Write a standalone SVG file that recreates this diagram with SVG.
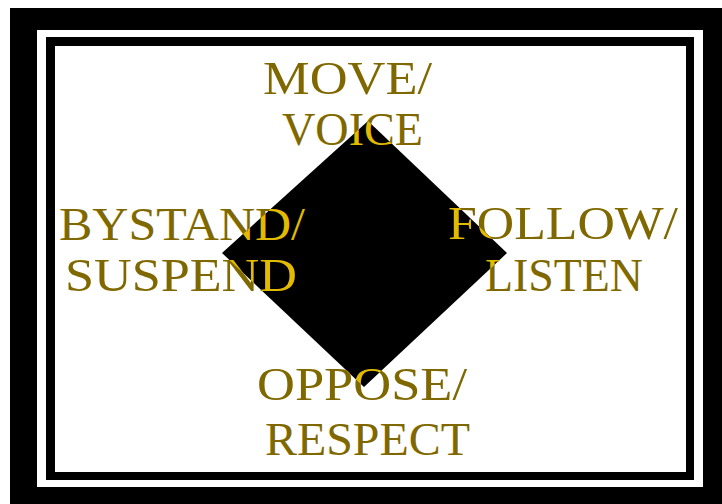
<svg xmlns="http://www.w3.org/2000/svg" width="722" height="504" viewBox="0 0 722 504">
  <style>
    .lbl { font-family: "Liberation Serif", "DejaVu Serif", serif; font-size: 46px; fill: url(#txfill); text-anchor: middle; }
  </style>
  <defs>
    <pattern id="txfill" patternUnits="userSpaceOnUse" x="0" y="0" width="722" height="504">
      <rect x="0" y="0" width="722" height="504" fill="#806800"/>
      <polygon points="368,121 507,253 364,387 222,253" fill="#e2bb00"/>
    </pattern>
  </defs>
  <rect x="0" y="0" width="722" height="504" fill="#ffffff"/>
  <g id="frame">
    <rect x="10" y="8" width="712" height="496" fill="#000000"/>
    <rect x="37" y="30" width="666" height="457" fill="#ffffff"/>
    <rect x="46" y="37" width="648" height="443" fill="#000000"/>
    <rect x="55" y="46" width="631" height="426" fill="#ffffff"/>
  </g>
  <g id="diamond">
    <polygon points="368,121 507,253 364,387 222,253" fill="#000000"/>
  </g>
  <g id="label-top">
    <text class="lbl" x="347.5" y="94" textLength="169" lengthAdjust="spacingAndGlyphs">MOVE/</text>
    <text class="lbl" x="352.5" y="145" textLength="141" lengthAdjust="spacingAndGlyphs">VOICE</text>
  </g>
  <g id="label-left">
    <text class="lbl" x="182" y="240" textLength="246" lengthAdjust="spacingAndGlyphs">BYSTAND/</text>
    <text class="lbl" x="181" y="291" textLength="232" lengthAdjust="spacingAndGlyphs">SUSPEND</text>
  </g>
  <g id="label-right">
    <text class="lbl" x="563" y="239" textLength="230" lengthAdjust="spacingAndGlyphs">FOLLOW/</text>
    <text class="lbl" x="564" y="291" textLength="158" lengthAdjust="spacingAndGlyphs">LISTEN</text>
  </g>
  <g id="label-bottom">
    <text class="lbl" x="362" y="400" textLength="210" lengthAdjust="spacingAndGlyphs">OPPOSE/</text>
    <text class="lbl" x="367.5" y="455" textLength="205" lengthAdjust="spacingAndGlyphs">RESPECT</text>
  </g>
</svg>
